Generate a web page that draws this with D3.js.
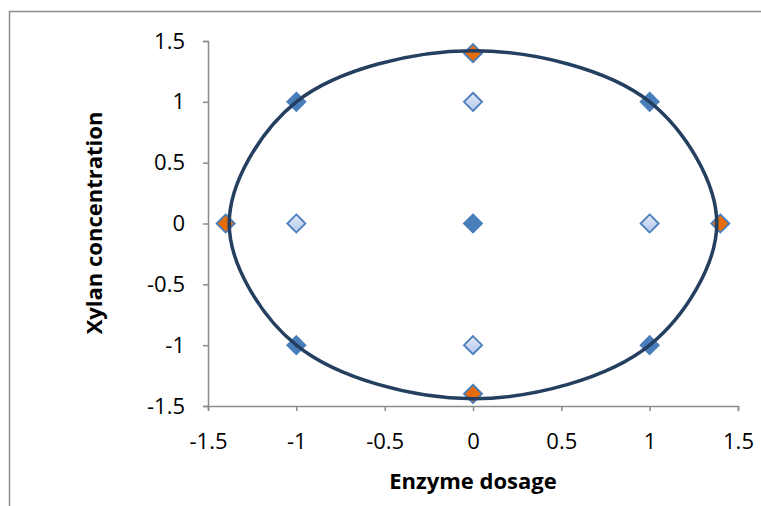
<!DOCTYPE html>
<html>
<head>
<meta charset="utf-8">
<script src="https://cdn.jsdelivr.net/npm/d3@7"></script>
<style>
  body { margin: 0; background: #fff; }
  text { font-family: "Open Sans", Lato, sans-serif; }
</style>
</head>
<body>
<script>
var width = 761,
    height = 506

// design points
var factorial = [[-1, 1], [1, 1], [-1, -1], [1, -1], [0, 0]]
var axial = [[0, 1], [-1, 0], [1, 0], [0, -1]]
var star = [[0, 1.4], [-1.4, 0], [1.4, 0], [0, -1.4]]
// boundary curve
var boundary = [[1.38, 0], [1, 1], [0, 1.42], [-1, 1], [-1.38, 0], [-1, -1], [0, -1.44], [1, -1]]
var ticks = [-1.5, -1, -0.5, 0, 0.5, 1, 1.5]

var x = d3.scaleLinear().domain([-1.5, 1.5]).range([208, 738])
var y = d3.scaleLinear().domain([-1.5, 1.5]).range([406, 41])

var svg = d3.select('body').append('svg')
    .attr('width', width)
    .attr('height', height)

// outer frame (left + top only visible)
svg.append('path')
    .attr('d', 'M9.5,' + height + 'V11.5H' + width)
    .attr('fill', 'none')
    .attr('stroke', '#8c8c8c')
    .attr('stroke-width', 1.5)

var axisColor = '#8c8c8c'

function styleAxis(g) {
  g.select('.domain').attr('stroke', axisColor).attr('stroke-width', 1.5)
  g.selectAll('.tick line').attr('stroke', axisColor).attr('stroke-width', 1.5)
  g.selectAll('text').attr('font-size', 22).attr('fill', '#000')
      .style('font-family', '"Open Sans", Lato, sans-serif')
}

svg.append('g')
    .attr('transform', 'translate(0,' + y(-1.5) + ')')
    .call(d3.axisBottom(x).tickValues(ticks).tickSize(5).tickPadding(22)
      .tickFormat(function(d){ return String(d) }))
    .call(styleAxis)

svg.append('g')
    .attr('transform', 'translate(' + x(-1.5) + ',0)')
    .call(d3.axisLeft(y).tickValues(ticks).tickSize(5).tickPadding(18)
      .tickFormat(function(d){ return String(d) }))
    .call(styleAxis)

// axis titles
svg.append('text')
    .attr('x', 473).attr('y', 489)
    .attr('text-anchor', 'middle')
    .attr('font-size', 22).attr('font-weight', 'bold')
    .text('Enzyme dosage')

svg.append('text')
    .attr('transform', 'translate(102,223) rotate(-90)')
    .attr('text-anchor', 'middle')
    .attr('font-size', 22).attr('font-weight', 'bold')
    .text('Xylan concentration')

// gradient for axial markers
var grad = svg.append('defs').append('linearGradient').attr('id', 'lightFill')
    .attr('x1', 0).attr('y1', 0).attr('x2', 0).attr('y2', 1)
grad.append('stop').attr('offset', '0%').attr('stop-color', '#e2eaf7')
grad.append('stop').attr('offset', '100%').attr('stop-color', '#b2c7ea')

var diamond = d3.symbol().type(d3.symbolDiamond2).size(210)

function drawPoints(data, fill, cls) {
  svg.selectAll('path.' + cls).data(data).enter().append('path')
      .attr('class', cls)
      .attr('d', diamond)
      .attr('transform', function(d){ return 'translate(' + x(d[0]) + ',' + y(d[1]) + ')' })
      .attr('fill', fill)
      .attr('stroke', '#4a7ebb')
      .attr('stroke-width', 1.8)
}

drawPoints(factorial, '#4a7ebb', 'fact')
drawPoints(axial, 'url(#lightFill)', 'axial')
drawPoints(star, '#e46c0a', 'star')

// boundary line
var line = d3.line()
    .x(function(d){ return x(d[0]) })
    .y(function(d){ return y(d[1]) })
    .curve(d3.curveCatmullRomClosed.alpha(0.5))

svg.append('path')
    .datum(boundary)
    .attr('d', line)
    .attr('fill', 'none')
    .attr('stroke', '#243f60')
    .attr('stroke-width', 3.5)
</script>
</body>
</html>
